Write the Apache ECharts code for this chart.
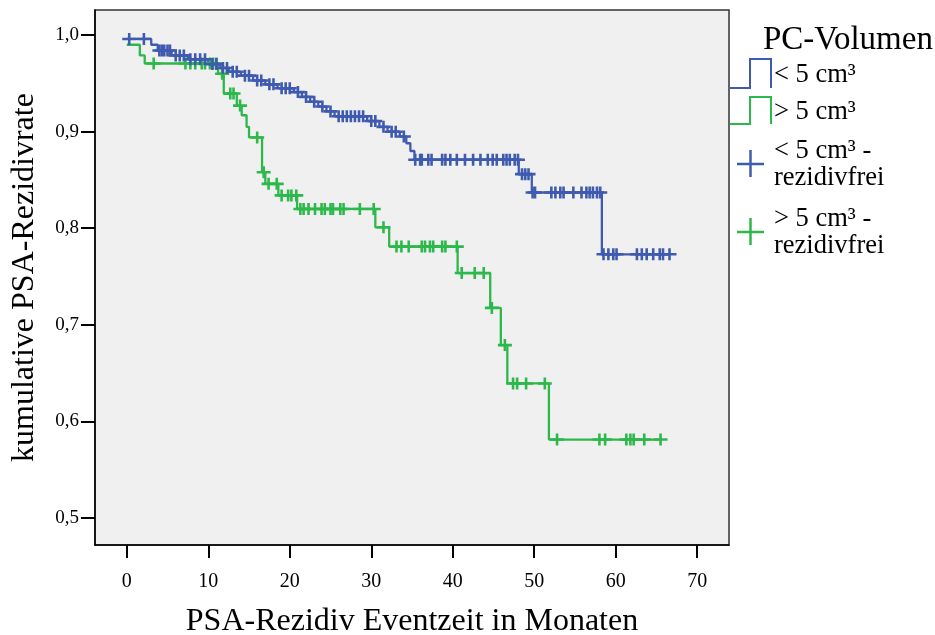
<!DOCTYPE html>
<html>
<head>
<meta charset="utf-8">
<script src="https://cdn.jsdelivr.net/npm/echarts@6/dist/echarts.min.js"></script>
<style>
html,body{margin:0;padding:0;background:#fff;}
#chart{width:935px;height:635px;}
</style>
</head>
<body>
<div id="chart"></div>
<script>
// ---- data ----
const xTicks = [0, 10, 20, 30, 40, 50, 60, 70];
const yTicks = [0.5, 0.6, 0.7, 0.8, 0.9, 1.0];

// < 5 cm³ : Kaplan-Meier step times and survival values
const blueStepT = [0, 3.0, 3.8, 5.5, 7.5, 10.0, 11.5, 12.5, 14.0, 15.5, 17.0, 18.5, 20.5, 21.5, 22.5, 23.5, 24.5, 25.5, 29.5, 31.0, 32.0, 33.5, 34.3, 34.8, 35.3, 48.1, 49.7, 58.3];
const blueStepS = [0.996, 0.990, 0.984, 0.979, 0.975, 0.970, 0.966, 0.962, 0.958, 0.953, 0.949, 0.945, 0.941, 0.936, 0.931, 0.926, 0.921, 0.916, 0.911, 0.905, 0.900, 0.895, 0.888, 0.880, 0.871, 0.856, 0.837, 0.773];
const blueCensorT = [0.3, 2.1, 4.0, 4.3, 4.6, 5.0, 5.3, 6.0, 6.5, 7.0, 7.8, 8.4, 9.0, 9.6, 10.5, 11.0, 11.8, 12.3, 13.0, 13.5, 14.5, 15.0, 16.0, 16.5, 17.5, 18.0, 19.0, 19.5, 20.0, 21.0, 22.0, 23.0, 24.0, 25.0, 26.0, 26.5, 27.0, 27.5, 28.0, 28.5, 29.0, 30.0, 30.5, 31.5, 32.5, 33.0, 34.0,
  35.4, 36.0, 36.2, 37.0, 37.4, 38.7, 39.1, 39.7, 40.5, 41.5, 42.5, 43.4, 44.3, 44.9, 45.4, 46.2, 46.6, 47.0, 47.6, 48.0,
  48.5, 48.9, 49.3, 49.8, 50.1, 52.1, 52.6, 53.2, 53.6, 54.8, 55.8, 56.4, 56.8, 57.2, 57.7, 58.1,
  58.5, 59.1, 59.7, 60.1, 62.6, 63.2, 63.8, 64.6, 65.4, 65.8, 66.6];

// > 5 cm³
const greenStepT = [0, 1.6, 2.2, 11.2, 11.9, 13.5, 14.1, 14.7, 15.0, 16.6, 17.0, 18.6, 20.9, 30.5, 32.2, 40.6, 44.6, 45.9, 46.7, 51.8];
const greenStepS = [0.990, 0.979, 0.9706, 0.960, 0.9395, 0.927, 0.917, 0.905, 0.894, 0.858, 0.846, 0.834, 0.820, 0.801, 0.781, 0.7536, 0.7175, 0.679, 0.6393, 0.5812];
const greenCensorT = [3.3, 7.2, 7.8, 8.4, 9.2, 9.6, 10.2, 10.6, 11.0, 11.7, 12.7, 13.1, 13.9, 16.0, 16.8, 17.4, 18.4, 19.0, 19.8, 20.2, 20.8,
  21.3, 21.7, 22.3, 23.1, 23.9, 24.3, 25.0, 25.3, 26.2, 26.6, 28.6, 30.3, 31.5,
  33.1, 33.7, 34.6, 36.2, 36.6, 37.2, 37.6, 38.7, 39.1, 40.5, 41.1, 42.7, 43.8, 44.8, 46.4,
  47.4, 47.9, 49.0, 51.3, 52.8, 58.0, 58.7, 61.3, 61.8, 62.2, 63.5, 65.5];

const BLUE = '#3f5bb0';
const GREEN = '#2db84b';
const FONT = '"Liberation Serif", "Times New Roman", serif';

function stepLine(T, S, lastT) {
  const d = T.map((t, i) => [t, S[i]]);
  d.push([lastT, S[S.length - 1]]);
  return d;
}
function survAt(T, S, t) {
  let v = S[0];
  for (let i = 0; i < T.length; i++) { if (T[i] <= t) v = S[i]; }
  return v;
}
function censorPts(T, S, C) { return C.map(t => [t, survAt(T, S, t)]); }

const plus = 'path://M0,4.7H14V7.3H0Z M5.7,0H8.3V12H5.7Z';

const chart = echarts.init(document.getElementById('chart'), null, {renderer: 'canvas'});

const legendItems = [];
legendItems.push({type: 'text', x: 763, y: 40, style: {text: 'PC-Volumen', font: '33px ' + FONT, fill: '#000', verticalAlign: 'middle', align: 'left'}});
legendItems.push({type: 'polyline', shape: {points: [[730, 88], [750, 88], [750, 59], [771, 59], [771, 88]]}, style: {stroke: BLUE, lineWidth: 2, fill: null}});
legendItems.push({type: 'polyline', shape: {points: [[730, 124], [750, 124], [750, 97], [771, 97], [771, 124]]}, style: {stroke: GREEN, lineWidth: 2, fill: null}});
legendItems.push({type: 'polyline', shape: {points: [[737, 164], [764, 164]]}, style: {stroke: BLUE, lineWidth: 2.5}});
legendItems.push({type: 'polyline', shape: {points: [[750.5, 150], [750.5, 177]]}, style: {stroke: BLUE, lineWidth: 2.5}});
legendItems.push({type: 'polyline', shape: {points: [[737, 232], [764, 232]]}, style: {stroke: GREEN, lineWidth: 2.5}});
legendItems.push({type: 'polyline', shape: {points: [[750.5, 218], [750.5, 245]]}, style: {stroke: GREEN, lineWidth: 2.5}});
const legTexts = [['< 5 cm³', 75], ['> 5 cm³', 112], ['< 5 cm³ -', 151], ['rezidivfrei', 178], ['> 5 cm³ -', 219], ['rezidivfrei', 246]];
legTexts.forEach(([t, y]) => {
  legendItems.push({type: 'text', x: 774, y: y, style: {text: t, font: '26.5px ' + FONT, fill: '#000', verticalAlign: 'middle', align: 'left'}});
});

const option = {
  animation: false,
  backgroundColor: '#fff',
  grid: {left: 95, top: 10, width: 634, height: 535, outerBoundsMode: 'none', containLabel: false,
    show: true, backgroundColor: '#f0f0f0', borderColor: '#333', borderWidth: 1.5},
  xAxis: {
    type: 'value', min: -3.9, max: 73.9,
    name: 'PSA-Rezidiv Eventzeit in Monaten', nameLocation: 'middle', nameGap: 61,
    nameTextStyle: {fontFamily: FONT, fontSize: 32, color: '#000'},
    axisLine: {show: true, onZero: false, lineStyle: {color: '#000', width: 1.5}},
    axisTick: {show: true, customValues: xTicks, length: 13, lineStyle: {color: '#000', width: 2}},
    axisLabel: {customValues: xTicks, fontFamily: FONT, fontSize: 20, color: '#000', margin: 27},
    splitLine: {show: false}
  },
  yAxis: {
    type: 'value', min: 0.472, max: 1.026,
    name: 'kumulative PSA-Rezidivrate', nameLocation: 'middle', nameGap: 54,
    nameTextStyle: {fontFamily: FONT, fontSize: 32, color: '#000'},
    axisLine: {show: true, onZero: false, lineStyle: {color: '#000', width: 1.5}},
    axisTick: {show: true, customValues: yTicks, length: 14, lineStyle: {color: '#000', width: 2}},
    axisLabel: {customValues: yTicks, fontFamily: FONT, fontSize: 19, color: '#000', margin: 16,
      formatter: v => v.toFixed(1).replace('.', ',')},
    splitLine: {show: false}
  },
  graphic: legendItems,
  series: [
    {name: '< 5 cm³', type: 'line', step: 'end', data: stepLine(blueStepT, blueStepS, blueCensorT[blueCensorT.length - 1]),
      symbol: 'none', lineStyle: {color: BLUE, width: 2.3}, z: 3},
    {name: '> 5 cm³', type: 'line', step: 'end', data: stepLine(greenStepT, greenStepS, greenCensorT[greenCensorT.length - 1]),
      symbol: 'none', lineStyle: {color: GREEN, width: 2.3}, z: 2},
    {name: '< 5 cm³ - rezidivfrei', type: 'scatter', data: censorPts(blueStepT, blueStepS, blueCensorT),
      symbol: plus, symbolSize: [14, 12], itemStyle: {color: BLUE, opacity: 1}, z: 5},
    {name: '> 5 cm³ - rezidivfrei', type: 'scatter', data: censorPts(greenStepT, greenStepS, greenCensorT),
      symbol: plus, symbolSize: [14, 12], itemStyle: {color: GREEN, opacity: 1}, z: 4}
  ]
};
chart.setOption(option);
</script>
</body>
</html>
